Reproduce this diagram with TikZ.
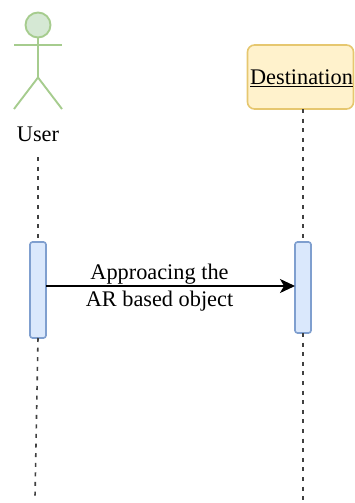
\documentclass[tikz,border=0pt]{standalone}
\usepackage{fontspec}
\setmainfont{Liberation Serif}
\usetikzlibrary{arrows.meta}
\definecolor{gfill}{HTML}{D5E8D4}
\definecolor{gline}{HTML}{A6CC8E}
\definecolor{yfill}{HTML}{FFF2CC}
\definecolor{yline}{HTML}{E6C76F}
\definecolor{bfill}{HTML}{DAE8FC}
\definecolor{bline}{HTML}{7F9FCF}
\tikzset{
  actorline/.style={draw=gline,line width=1.9pt},
  activation/.style={draw=bline,fill=bfill,line width=1.6pt,rounded corners=2.5pt,minimum width=16pt,inner sep=0pt,outer sep=0pt},
  lifeline/.style={draw=black!75,line width=1.3pt,dash pattern=on 4pt off 5.6pt},
  label/.style={font=\fontsize{22.3pt}{27pt}\selectfont,inner sep=0pt,align=center}
}
\begin{document}
\begin{tikzpicture}[x=1pt,y=-1pt]
\useasboundingbox (0,0) rectangle (354,503);
% actor
\node[circle,draw=gline,fill=gfill,line width=1.9pt,minimum size=25pt,inner sep=0pt] (head) at (38,25) {};
\coordinate (armL) at (14,45);
\coordinate (armR) at (62,45);
\coordinate (hip) at (38,77.5);
\coordinate (footL) at (14,109);
\coordinate (footR) at (62,109);
\draw[actorline] (head.south) -- (hip);
\draw[actorline] (armL) -- (armR);
\draw[actorline] (footL) -- (hip) -- (footR);
\node[label] (user) at (38,134.5) {User};
% destination
\node[draw=yline,fill=yfill,line width=1.6pt,rounded corners=7pt,minimum width=106pt,minimum height=64pt,inner sep=0pt,outer sep=0pt] (dest) at (300.5,77) {};
\node[label] (destlabel) at (301.5,78) {\underline{Destination}};
% activations
\node[activation,minimum height=96pt] (actL) at (38,290) {};
\node[activation,minimum height=91pt] (actR) at (303,287.5) {};
% lifelines
\coordinate (userTop) at (38,157);
\coordinate (userEnd) at (35,497);
\coordinate (destEnd) at (303,503);
\draw[lifeline] (userTop) -- (actL.north);
\draw[lifeline] (dest.south -| actR.north) -- (actR.north);
\draw[lifeline,line width=1.6pt] (actL.south) -- (userEnd);
\draw[lifeline] (actR.south) -- (destEnd);
% message
\draw[-{Stealth[length=15pt,width=14pt,inset=4pt]},line width=1.6pt] (actL.east |- 0,286) coordinate (msgA) -- (actR.west |- 0,286) coordinate (msgB);
\node[label] (msg) at (159.5,288) {Approacing the\\AR based object};
\end{tikzpicture}
\end{document}
